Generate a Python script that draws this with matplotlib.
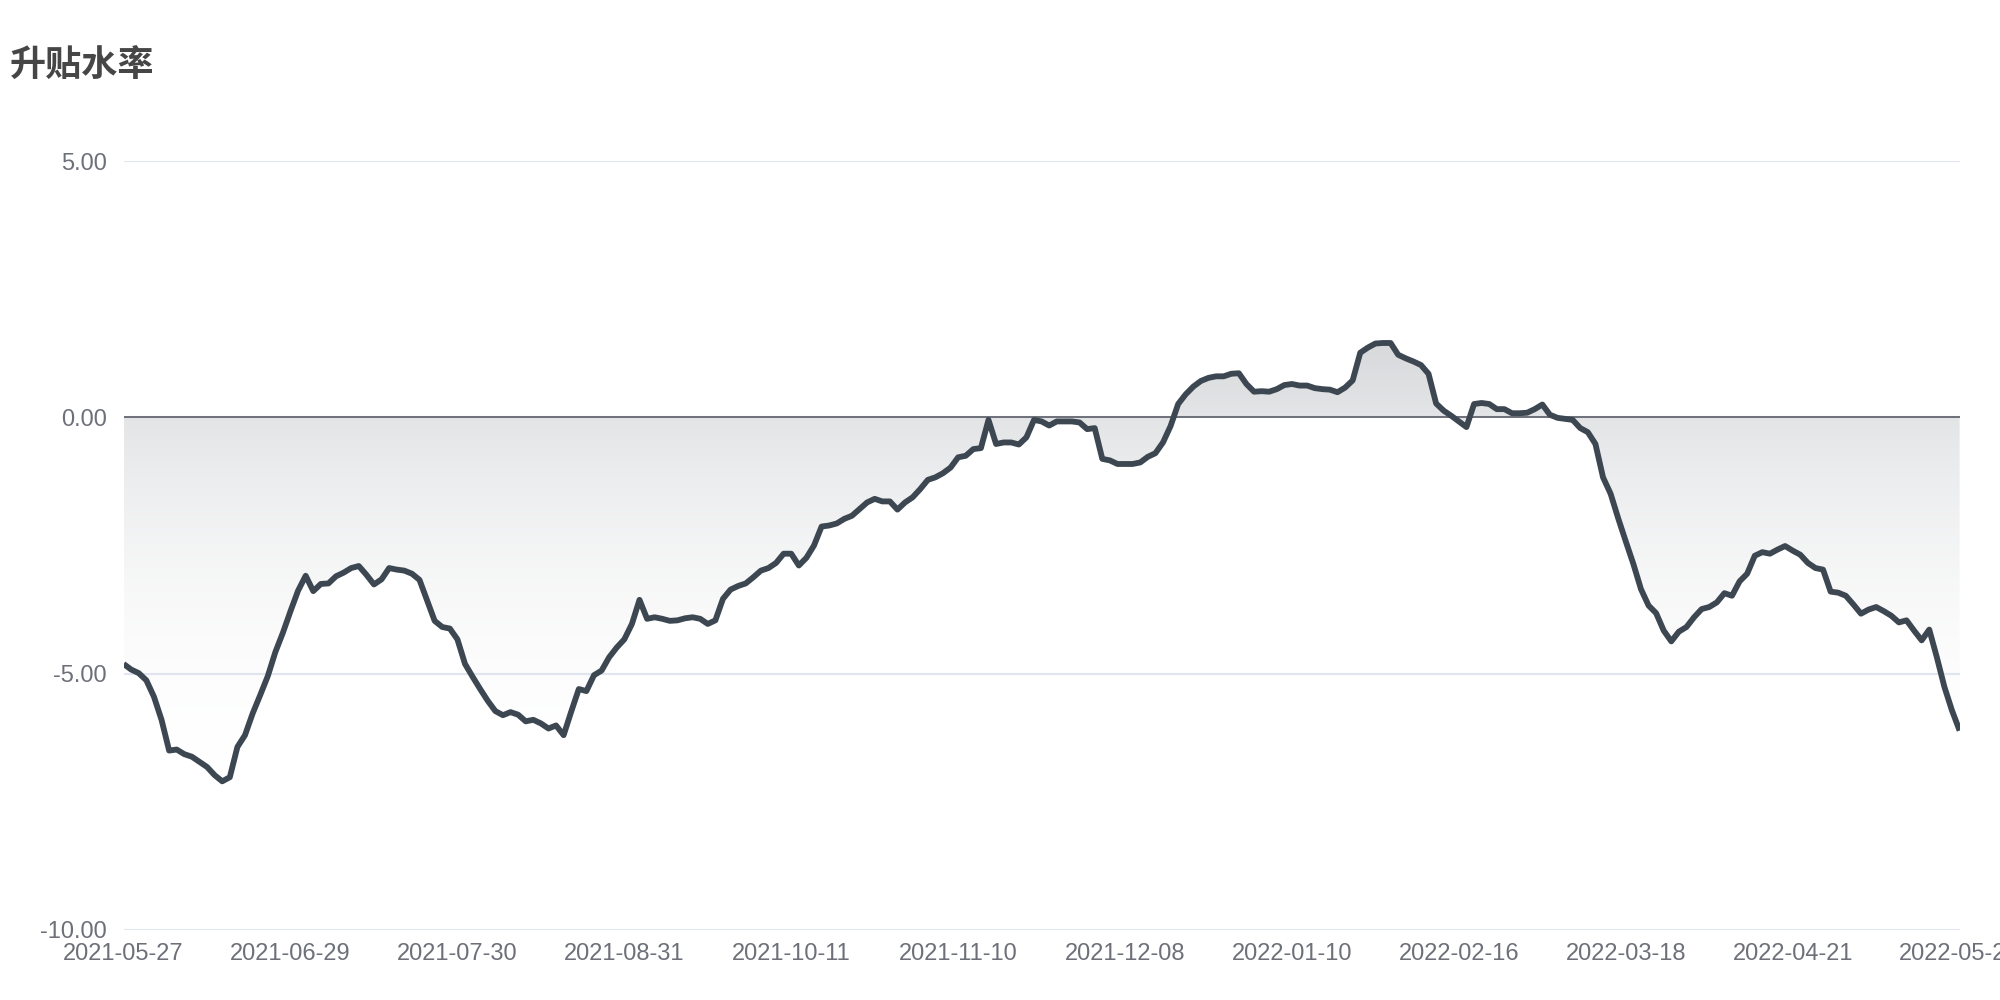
import matplotlib
matplotlib.use("Agg")
import matplotlib.pyplot as plt
import numpy as np
from matplotlib.colors import LinearSegmentedColormap

# daily basis rate (%), one value per trading day, 2021-05-27 .. 2022-05-26
values = [
    -4.81, -4.92, -4.99, -5.13, -5.45, -5.90, -6.50, -6.48, -6.57, -6.62, -6.72,
    -6.82, -6.98, -7.10, -7.02, -6.43, -6.20, -5.78, -5.42, -5.05, -4.58, -4.20,
    -3.78, -3.38, -3.09, -3.39, -3.25, -3.24, -3.10, -3.03, -2.94, -2.90, -3.07,
    -3.26, -3.16, -2.94, -2.97, -2.99, -3.05, -3.17, -3.57, -3.97, -4.09, -4.12,
    -4.33, -4.81, -5.06, -5.30, -5.53, -5.73, -5.81, -5.75, -5.80, -5.93, -5.90,
    -5.97, -6.07, -6.01, -6.20, -5.74, -5.30, -5.34, -5.03, -4.94, -4.68, -4.49,
    -4.33, -4.03, -3.56, -3.93, -3.90, -3.93, -3.97, -3.96, -3.92, -3.90, -3.93,
    -4.03, -3.96, -3.54, -3.36, -3.29, -3.24, -3.12, -2.99, -2.94, -2.84, -2.66,
    -2.66, -2.89, -2.74, -2.50, -2.13, -2.11, -2.07, -1.98, -1.92, -1.79, -1.66,
    -1.59, -1.64, -1.64, -1.80, -1.66, -1.56, -1.40, -1.22, -1.17, -1.09, -0.98,
    -0.78, -0.75, -0.62, -0.60, -0.05, -0.52, -0.49, -0.49, -0.53, -0.39, -0.05,
    -0.08, -0.16, -0.08, -0.08, -0.08, -0.10, -0.23, -0.21, -0.81, -0.84, -0.91,
    -0.91, -0.91, -0.88, -0.77, -0.70, -0.49, -0.17, 0.26, 0.45, 0.60, 0.71,
    0.77, 0.80, 0.80, 0.85, 0.86, 0.65, 0.50, 0.51, 0.50, 0.55, 0.63,
    0.65, 0.62, 0.62, 0.57, 0.55, 0.54, 0.49, 0.58, 0.72, 1.26, 1.36,
    1.44, 1.45, 1.45, 1.22, 1.15, 1.09, 1.02, 0.85, 0.27, 0.13, 0.03,
    -0.08, -0.19, 0.26, 0.28, 0.26, 0.16, 0.16, 0.08, 0.08, 0.09, 0.16,
    0.25, 0.05, -0.01, -0.03, -0.05, -0.21, -0.29, -0.52, -1.17, -1.49, -1.97,
    -2.42, -2.86, -3.35, -3.67, -3.82, -4.16, -4.37, -4.18, -4.09, -3.90, -3.74,
    -3.70, -3.61, -3.43, -3.48, -3.20, -3.05, -2.70, -2.63, -2.66, -2.58, -2.51,
    -2.60, -2.68, -2.84, -2.94, -2.97, -3.40, -3.42, -3.48, -3.65, -3.83, -3.75,
    -3.70, -3.78, -3.87, -4.00, -3.96, -4.16, -4.35, -4.14, -4.68, -5.26, -5.72,
    -6.11,
]
tick_labels = [
    "2021-05-27", "2021-06-29", "2021-07-30", "2021-08-31", "2021-10-11",
    "2021-11-10", "2021-12-08", "2022-01-10", "2022-02-16", "2022-03-18",
    "2022-04-21", "2022-05-26",
]
tick_step = 22
y_ticks = [5, 0, -5, -10]

line_color = "#3d4752"
label_color = "#6e7079"
latin = ["Liberation Sans", "DejaVu Sans"]

fig = plt.figure(figsize=(20, 10), dpi=100)
ax = fig.add_axes([0.0618, 0.070, 0.918, 0.769])

x = np.arange(len(values))
y = np.array(values)

# area between the line and zero, shaded with a vertical gradient
poly = ax.fill_between(x, y, 0, facecolor="none", linewidth=0)
top = max(y.max(), 0)
bot = min(y.min(), 0)
cmap = LinearSegmentedColormap.from_list(
    "area", [(1, 1, 1, 0), (61 / 255, 71 / 255, 83 / 255, 0.21)]
)
grad = np.linspace(1, 0, 256).reshape(-1, 1)
im = ax.imshow(grad, cmap=cmap, vmin=0, vmax=1, aspect="auto",
               extent=[x[0], x[-1], bot, top], interpolation="bicubic", zorder=1)
im.set_clip_path(poly.get_paths()[0], transform=ax.transData)

ax.plot(x, y, color=line_color, linewidth=4.2, solid_joinstyle="round",
        solid_capstyle="butt", zorder=4)
ax.axhline(0, color=label_color, linewidth=1.4, zorder=3)

ax.set_xlim(x[0], x[-1])
ax.set_ylim(-10, 5)
ax.set_yticks(y_ticks)
ax.set_yticklabels([f"{v:.2f}" for v in y_ticks])
ax.set_xticks(x[::tick_step])
ax.set_xticklabels(tick_labels)
ax.yaxis.grid(True, color="#e0e6f1", linewidth=1.5, zorder=0)
ax.set_axisbelow(True)
for side in ax.spines:
    ax.spines[side].set_visible(False)

ax.tick_params(axis="y", length=0, labelsize=17, labelcolor=label_color, pad=12)
ax.tick_params(axis="x", length=0, labelsize=17, labelcolor=label_color, pad=9)
for lab in ax.get_xticklabels() + ax.get_yticklabels():
    lab.set_family(latin)

fig.text(0.005, 0.935, "升贴水率", fontsize=26, fontweight="bold", color="#464646",
         va="center", ha="left", family=["Noto Sans CJK SC", "DejaVu Sans"])

fig.savefig("out.png", dpi=100)
